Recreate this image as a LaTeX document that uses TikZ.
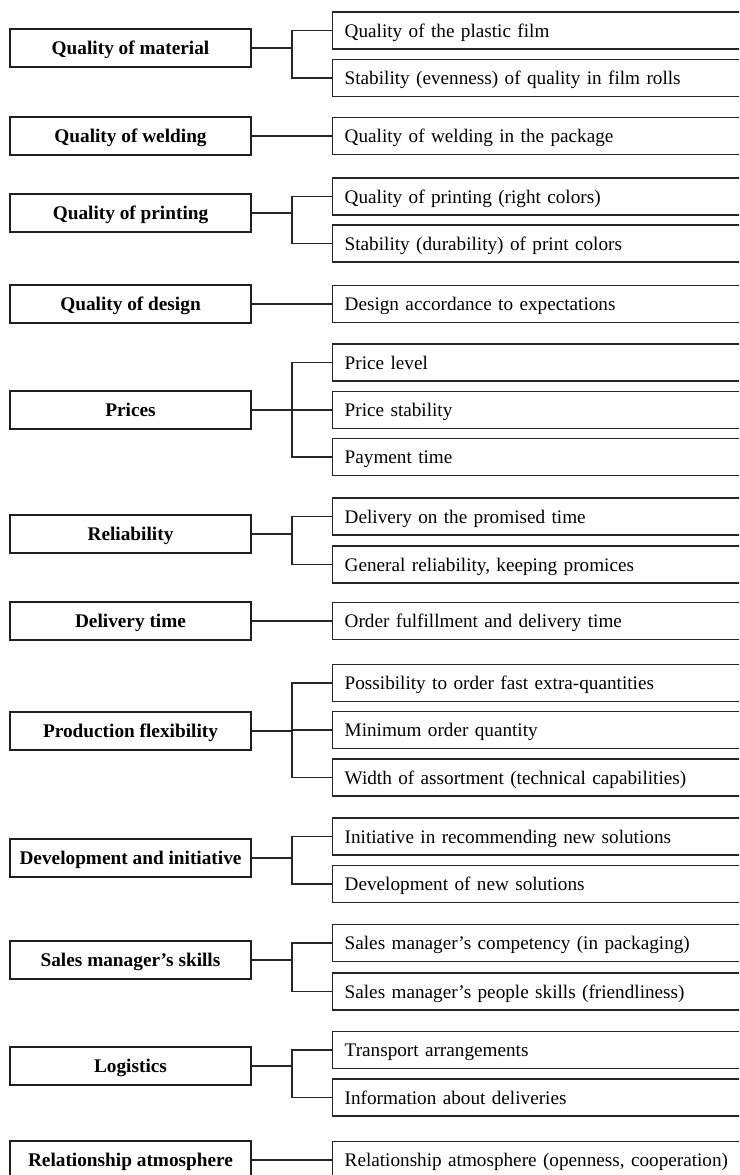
\documentclass[tikz,border=0pt]{standalone}
\usepackage{fontspec}
\setmainfont{Liberation Serif}
\begin{document}
\begin{tikzpicture}[x=1pt,y=-1pt,
  lbox/.style={draw=black!88, line width=2.3pt, minimum width=241pt, minimum height=38pt, inner sep=0pt,
    font=\fontsize{19.3}{22}\selectfont\bfseries, text height=17pt, text depth=4pt},
  rbox/.style={draw=black!85, line width=1.4pt, anchor=west, minimum height=37pt, text width=390pt,
    inner xsep=12pt, inner ysep=0pt, align=left, font=\fontsize{19.2}{22}\selectfont,
    text height=17pt, text depth=4pt},
  link/.style={draw=black!85, line width=1.4pt}]
\useasboundingbox (0,0) rectangle (739,1175);
\clip (0,0) rectangle (739,1175);
\fill[white] (0,0) rectangle (739,1175);
% left boxes
\node[lbox] (L1) at (130.5,48) {Quality of material};
\node[lbox] (L2) at (130.5,136) {Quality of welding};
\node[lbox] (L3) at (130.5,213) {Quality of printing};
\node[lbox] (L4) at (130.5,304) {Quality of design};
\node[lbox] (L5) at (130.5,410) {Prices};
\node[lbox] (L6) at (130.5,534) {Reliability};
\node[lbox] (L7) at (130.5,621) {Delivery time};
\node[lbox] (L8) at (130.5,731) {Production flexibility};
\node[lbox] (L9) at (130.5,858) {Development and initiative};
\node[lbox] (L10) at (130.5,960) {Sales manager’s skills};
\node[lbox] (L11) at (130.5,1066) {Logistics};
\node[lbox] (L12) at (130.5,1160) {Relationship atmosphere};
% right boxes
\node[rbox] (R1) at (332,30.5) {Quality of the plastic film};
\node[rbox] (R2) at (332,78) {Stability (evenness) of quality in film rolls};
\node[rbox] (R3) at (332,136) {Quality of welding in the package};
\node[rbox] (R4) at (332,196.5) {Quality of printing (right colors)};
\node[rbox] (R5) at (332,243.5) {Stability (durability) of print colors};
\node[rbox] (R6) at (332,304) {Design accordance to expectations};
\node[rbox] (R7) at (332,362.5) {Price level};
\node[rbox] (R8) at (332,410) {Price stability};
\node[rbox] (R9) at (332,457) {Payment time};
\node[rbox] (R10) at (332,516.5) {Delivery on the promised time};
\node[rbox] (R11) at (332,564.5) {General reliability, keeping promices};
\node[rbox] (R12) at (332,621) {Order fulfillment and delivery time};
\node[rbox] (R13) at (332,683) {Possibility to order fast extra-quantities};
\node[rbox] (R14) at (332,730) {Minimum order quantity};
\node[rbox] (R15) at (332,777.5) {Width of assortment (technical capabilities)};
\node[rbox] (R16) at (332,836.5) {Initiative in recommending new solutions};
\node[rbox] (R17) at (332,884) {Development of new solutions};
\node[rbox] (R18) at (332,943) {Sales manager’s competency (in packaging)};
\node[rbox] (R19) at (332,991.5) {Sales manager’s people skills (friendliness)};
\node[rbox] (R20) at (332,1050) {Transport arrangements};
\node[rbox] (R21) at (332,1097.5) {Information about deliveries};
\node[rbox] (R22) at (332,1160) {Relationship atmosphere (openness, cooperation)};
% connectors
\foreach \l/\r in {L1/R1,L1/R2,L3/R4,L3/R5,L5/R7,L5/R8,L5/R9,L6/R10,L6/R11,
  L8/R13,L8/R14,L8/R15,L9/R16,L9/R17,L10/R18,L10/R19,L11/R20,L11/R21}
  \draw[link] (\l.east) -- ++(40pt,0) |- (\r.west);
\draw[link] (L2.east) -- (R3.west);
\draw[link] (L4.east) -- (R6.west);
\draw[link] (L7.east) -- (R12.west);
\draw[link] (L12.east) -- (R22.west);
\end{tikzpicture}
\end{document}
